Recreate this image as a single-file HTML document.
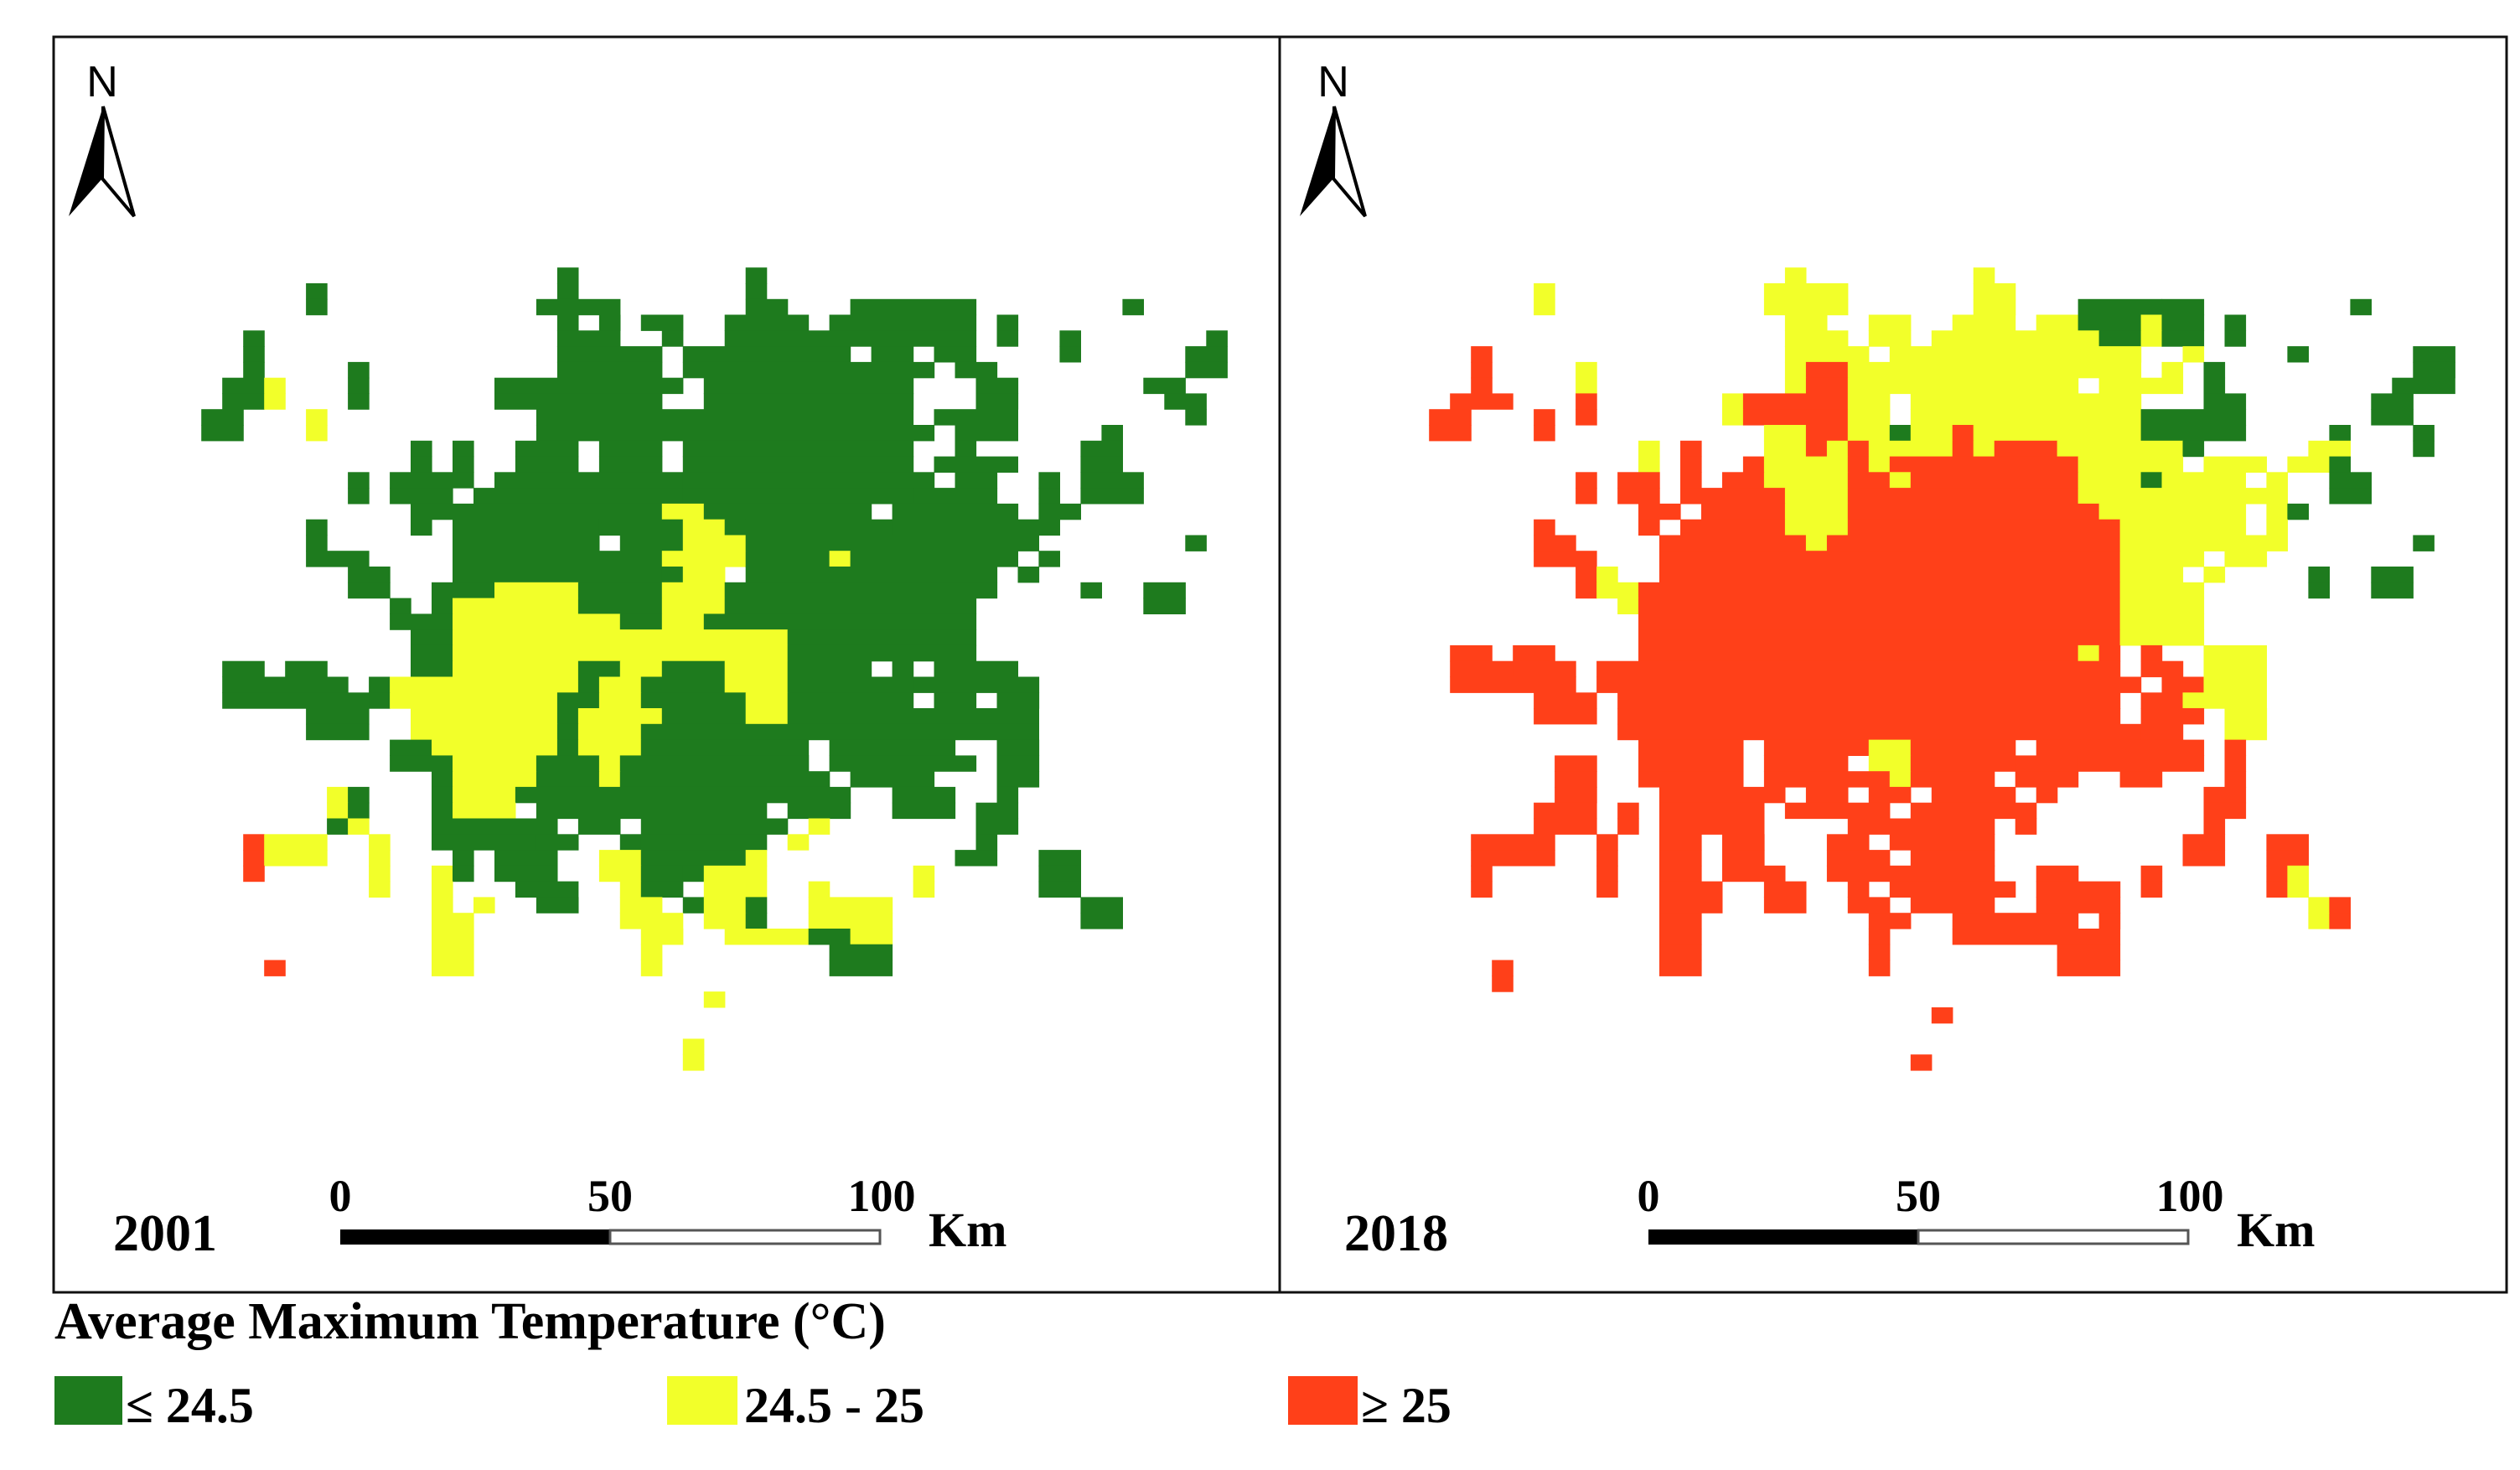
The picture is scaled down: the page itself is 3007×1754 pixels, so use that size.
<!DOCTYPE html>
<html><head><meta charset="utf-8"><style>
body{margin:0;background:#fff;}
svg{display:block;}
text{font-family:"Liberation Serif",serif;font-weight:bold;fill:#000;}
</style></head><body>
<svg id="fig" width="3007" height="1754" viewBox="0 0 3007 1754" xmlns="http://www.w3.org/2000/svg">
<rect x="0" y="0" width="3007" height="1754" fill="#fff"/>
<g id="map2001"></g>
<g id="map2018"></g>
<rect x="64" y="44" width="2927" height="1498" fill="none" stroke="#111" stroke-width="3"/>
<line x1="1527" y1="44" x2="1527" y2="1542" stroke="#111" stroke-width="3"/>
<g>
<text x="122" y="115" font-size="52" text-anchor="middle" style="font-family:'Liberation Sans',sans-serif;font-weight:normal">N</text>
<polygon points="123,127 82,258 122,213" fill="#000"/>
<polygon points="123,127 160,258 122,213" fill="none" stroke="#000" stroke-width="4"/>
</g>
<g transform="translate(1469,0)">
<text x="122" y="115" font-size="52" text-anchor="middle" style="font-family:'Liberation Sans',sans-serif;font-weight:normal">N</text>
<polygon points="123,127 82,258 122,213" fill="#000"/>
<polygon points="123,127 160,258 122,213" fill="none" stroke="#000" stroke-width="4"/>
</g>
<text x="135" y="1492" font-size="62">2001</text>
<text x="1604" y="1492" font-size="62">2018</text>
<g>
<rect x="406" y="1467" width="322" height="18" fill="#000"/>
<rect x="728" y="1468" width="322" height="16" fill="#fff" stroke="#555" stroke-width="3"/>
<text x="406" y="1445" font-size="54" text-anchor="middle">0</text>
<text x="728" y="1445" font-size="54" text-anchor="middle">50</text>
<text x="1052" y="1445" font-size="54" text-anchor="middle">100</text>
<text x="1108" y="1487" font-size="58">Km</text>
</g>
<g transform="translate(1561,0)">
<rect x="406" y="1467" width="322" height="18" fill="#000"/>
<rect x="728" y="1468" width="322" height="16" fill="#fff" stroke="#555" stroke-width="3"/>
<text x="406" y="1445" font-size="54" text-anchor="middle">0</text>
<text x="728" y="1445" font-size="54" text-anchor="middle">50</text>
<text x="1052" y="1445" font-size="54" text-anchor="middle">100</text>
<text x="1108" y="1487" font-size="58">Km</text>
</g>
<text x="65" y="1597" font-size="62">Average Maximum Temperature (°C)</text>
<g>
<rect x="65" y="1642" width="81" height="58" fill="#1e7b1e"/>
<text x="150" y="1697" font-size="60">≤ 24.5</text>
</g>
<g>
<rect x="796" y="1642" width="84" height="58" fill="#f2ff2a"/>
<text x="888" y="1697" font-size="60">24.5 - 25</text>
</g>
<g>
<rect x="1537" y="1642" width="83" height="58" fill="#ff4019"/>
<text x="1624" y="1697" font-size="60">≥ 25</text>
</g>
</svg>
<script>
const classColors = {G:"#1e7b1e", Y:"#f2ff2a", R:"#ff4019"};
const rows2001 = [
"G20 G29","G8 G20 G29","G8 G19-22 G29-30 G34-39 G47","G20 G22 G24-25 G28-31 G33-39 G41",
"G5 G20-22 G25 G28-39 G41 G44 G51","G5 G20-24 G26-33 G35-36 G38-39 G44 G50-51","G5 G10 G20-24 G26-37 G39-40 G50-51",
"G4-5 Y6 G10 G17-25 G27-36 G40-41 G48-49","G4-5 Y6 G10 G17-24 G27-36 G40-41 G49-50","G3-4 Y8 G19-36 G38-41 G50",
"G3-4 Y8 G19-37 G39-41 G46","G13 G15 G18-20 G22-24 G26-36 G39 G45-46","G13 G15 G18-20 G22-24 G26-36 G38-41 G45-46",
"G10 G12-14 G15 G17-25 G26-37 G39-40 G43 G45-47","G10 G12-14 G16-25 G26-36 G37-40 G43 G45-47",
"G13-15 G16-24 Y25-26 G27-28 G29-34 G36-41 G43-44","G8 G13 G15-21 G22-25 Y26-27 G28-35 G36-43",
"G8 G15-21 G23-25 Y26-28 G29-42 G50","G8-10 G15-24 Y25-28 G29-32 Y33 G34-41 G43","G10-11 G15-24 G25 Y26-27 G29-40 G42",
"G10-11 G14-16 Y17-20 G21-24 Y25-27 G28-39 G40 G45 G48-49","G12 G14 Y15-20 G21-24 Y25-27 G28-39 G48-49",
"G12-13 G14 Y15-22 G23-24 Y25-26 G27-39","G13-14 Y15-30 G31-39","G13-14 Y15-30 G31-39",
"G4-5 G7-8 G13-14 Y15-20 G21-22 Y23-24 G25-27 Y28-30 G31-34 G36 G38-41","G4-6 G7-9 G11 Y12-20 G21 Y22-23 G24-27 Y28-30 G31-36 G37-42",
"G4-10 G11 Y12-19 G20-21 Y22-23 G24-28 Y29-30 G31-36 G38-39 G41-42","G8-10 Y13-19 G20 Y21-24 G25-28 Y29-30 G31-37 G38-42",
"G8-10 Y13-19 G20 Y21-23 G24-37 G38-42","G12-13 Y14-19 G20 Y21-23 G24-31 G33-38 G41-42",
"G12-13 G14 Y15-18 G19-21 Y22 G23-30 G31 G33-39 G41-42","G14 Y15-18 G19-21 Y22 G23-31 G32 G34-37 G41-42",
"Y9 G10 G14 Y15-17 G18-30 G31-33 G36-38 G41","Y9 G10 G14 Y15-17 G19-29 G31-33 G36-38 G40-41",
"G9 Y10 G14-19 G21-22 G24-30 Y32 G40-41","R5 Y6-8 Y11 G14-18 G19-20 G23 G24-29 Y31 G40",
"R5 Y6-8 Y11 G15 G17-19 Y22-23 G24-28 Y29 G39-40 G43-44","R5 Y11 Y14 G15 G17-19 Y22-23 G24-25 G26 Y27-29 Y37 G43-44",
"Y11 Y14 G18-20 Y23 G24-25 Y27-29 Y32 Y37 G43-44","Y14 Y16 G19-20 Y23-24 G26 Y27-28 G29 Y32-35 G45-46",
"Y14-15 Y23-25 Y27-28 G29 Y32-35 G45-46","Y14-15 Y24-25 Y28-31 G32-33 Y34-35","Y14-15 Y24 G33-35",
"R6 Y14-15 Y24 G33-35","","Y27","","","Y26","Y26"
];
const rows2018 = [
"Y20 Y29","Y8 Y19-22 Y29-30","Y8 Y19-22 Y29-30 G34-37 G38-39 G47","Y20-21 Y24-25 Y28-30 Y32-33 G34-36 Y37 G38-39 G41",
"Y20-22 Y24-25 Y27-34 G35-36 Y37 G38-39 G41","R5 Y20-23 Y25-36 Y39 G44 G50-51","R5 Y10 Y20 R21-22 Y23-36 Y38 G40 G50-51",
"R5 Y10 Y20 R21-22 Y23-33 Y35-38 G40 G49-51","R4-6 R10 Y17 R18-22 Y23-24 Y26-36 G40-41 G48-49",
"R3-4 R8 R10 Y17 R18-22 Y23-24 Y26-36 G37-41 G48-49","R3-4 R8 Y19-20 R21-22 Y23-24 G25 Y26-27 R28 Y29-36 G37-41 G46 G50",
"Y13 R15 Y19-20 R21 Y22 R23 Y24-27 R28 Y29 R30-32 Y33-38 G39 Y45-46 G50","Y13 R15 R18 Y19-22 R23 Y24 R25-33 Y34-38 Y40-42 Y44-45 G46",
"R10 R12-13 R15 R17-18 Y19-22 R23-24 Y25 R26-33 Y34-36 G37 Y38-41 Y43 G46-47","R10 R12-13 R15-19 Y20-22 R23-33 Y34-42 Y43 G46-47",
"R13-14 R16-19 Y20-22 R23-34 Y35-41 Y43 G44","R8 R13 R15-19 Y20-22 R23-35 Y36-41 Y43","R8-9 R14-20 Y21 R22-35 Y36-43 G50",
"R8-10 R14-35 Y36-39 Y41-42","R10 Y11 R14-35 Y36-38 Y40 G45 G48-49","R10 Y11-12 R13-35 Y36-39 G45 G48-49",
"Y12 R13-35 Y36-39","R13-35 Y36-39","R13-35 Y36-39","R4-5 R7-8 R13-33 Y34 R35 R37 Y40-42",
"R4-6 R7-9 R11-35 R37-38 Y40-42","R4-9 R11-36 R38-39 Y40-42","R8-10 R12-35 R37-38 Y39-42","R8-10 R12-35 R37-39 Y41-42",
"R12-36 R37-38 Y41-42","R13-17 R19-23 Y24-25 R26-30 R32-39 R41","R9-10 R13-17 R19-22 Y24-25 R26-30 R31-33 R34-39 R41",
"R9-10 R13-17 R19-24 Y25 R26-29 R31-33 R36-37 R41","R9-10 R14-19 R21-22 R24-25 R27-30 R32 R40-41",
"R8-10 R12 R14-18 R20-24 R26-31 R40-41","R8-10 R12 R14-18 R23-29 R31 R40","R5-8 R11 R14-15 R17-18 R22-23 R25-29 R39-40 R43-44",
"R5-8 R11 R14-15 R17-18 R22-24 R26-29 R39-40 R43-44","R5 R11 R14-15 R17-19 R22-29 R32-33 R37 R43 Y44",
"R5 R11 R14-16 R19-20 R23 R25-30 R32-35 R37 R43 Y44","R14-16 R19-20 R23-24 R26-29 R32-35 Y45 R46",
"R14-15 R24-25 R28-33 R35 Y45 R46","R14-15 R24 R28-35","R14-15 R24 R33-35","R6 R14-15 R24 R33-35","R6","","R27","","","R26"
];
const SVGNS = "http://www.w3.org/2000/svg";
function cellX(origin, c){ return origin + c * 24.98; }
function cellY(r){ return 319.2 + r * 18.78; }
function drawMap(groupId, rows, originX, label){
  const g = document.getElementById(groupId);
  rows.forEach((spec, r) => {
    spec.split(/\s+/).filter(Boolean).forEach(tok => {
      const cls = tok[0];
      const parts = tok.slice(1).split("-").map(Number);
      const c0 = parts[0], c1 = parts.length > 1 ? parts[1] : parts[0];
      const rect = document.createElementNS(SVGNS, "rect");
      rect.setAttribute("x", cellX(originX, c0).toFixed(1));
      rect.setAttribute("y", cellY(r).toFixed(1));
      rect.setAttribute("width", (cellX(originX, c1 + 1) - cellX(originX, c0) + 0.6).toFixed(1));
      rect.setAttribute("height", (cellY(r + 1) - cellY(r) + 0.6).toFixed(1));
      rect.setAttribute("fill", classColors[cls]);
      
      
      g.appendChild(rect);
    });
  });
}
drawMap("map2001", rows2001, 165.3, "2001");
drawMap("map2018", rows2018, 1630.3, "2018");
</script>
</body></html>
